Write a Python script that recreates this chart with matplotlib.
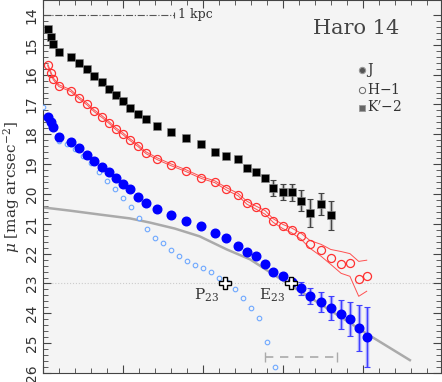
import matplotlib
matplotlib.use("Agg")
import matplotlib.pyplot as plt

plt.rcParams['font.family'] = ['DejaVu Serif']
plt.rcParams['mathtext.fontset'] = 'dejavuserif'

# radii of the measured profile points (arcsec)
radius = [0.6, 1.0, 1.3, 2.0, 3.5, 4.5, 5.5, 6.4, 7.4, 8.3, 9.1, 10.0, 10.9, 11.9,
          12.9, 14.3, 16.0, 17.9, 19.8, 21.5, 22.9, 24.4, 25.5, 26.6, 27.8, 28.8,
          30.0, 31.1, 32.3, 33.4, 34.8, 36.0, 37.3, 38.4, 39.5, 40.5]

# K'-2 profile (black squares)
mu_K = [14.47, 14.74, 14.97, 15.24, 15.40, 15.61, 15.81, 16.04, 16.24, 16.47, 16.68,
        16.88, 17.11, 17.31, 17.48, 17.71, 17.91, 18.11, 18.31, 18.58, 18.72, 18.82,
        19.12, 19.28, 19.48, 19.79, 19.92, 19.95, 20.22, 20.65, 20.35, 20.72]
err_K = [0, 0, 0, 0, 0, 0, 0, 0, 0, 0, 0, 0, 0, 0, 0, 0, 0, 0, 0, 0, 0, 0,
         0.04, 0.06, 0.10, 0.27, 0.27, 0.27, 0.34, 0.47, 0.37, 0.50]

# H-1 profile (red open circles) and its error envelope
mu_H = [15.67, 15.94, 16.14, 16.37, 16.54, 16.78, 16.98, 17.21, 17.41, 17.61, 17.81,
        17.98, 18.18, 18.38, 18.62, 18.82, 19.02, 19.22, 19.45, 19.59, 19.82, 20.02,
        20.29, 20.45, 20.62, 20.89, 21.09, 21.22, 21.42, 21.69, 21.89, 22.13, 22.36,
        22.33, 22.86, 22.76]
err_H_hi = [0.03, 0.03, 0.03, 0.03, 0.03, 0.03, 0.03, 0.03, 0.03, 0.03, 0.03, 0.03,
            0.03, 0.03, 0.03, 0.03, 0.03, 0.03, 0.03, 0.03, 0.04, 0.04, 0.05, 0.05,
            0.06, 0.06, 0.07, 0.08, 0.10, 0.13, 0.20, 0.27, 0.43, 0.33, 0.60, 0.54]
err_H_lo = [0.03, 0.03, 0.03, 0.03, 0.03, 0.03, 0.03, 0.03, 0.03, 0.03, 0.03, 0.03,
            0.03, 0.03, 0.03, 0.03, 0.03, 0.03, 0.03, 0.03, 0.04, 0.04, 0.05, 0.05,
            0.06, 0.06, 0.07, 0.08, 0.10, 0.13, 0.20, 0.23, 0.30, 0.43, 0.57, 0.50]

# J profile (blue filled circles)
mu_J = [17.41, 17.58, 17.75, 18.08, 18.25, 18.45, 18.68, 18.88, 19.08, 19.28, 19.48,
        19.65, 19.85, 20.09, 20.29, 20.49, 20.69, 20.89, 21.09, 21.32, 21.49, 21.73,
        21.93, 22.09, 22.36, 22.60, 22.76, 22.96, 23.16, 23.43, 23.63, 23.83, 24.03,
        24.20, 24.50, 24.80]
err_J = [0, 0, 0, 0, 0, 0, 0, 0, 0, 0, 0, 0, 0, 0, 0, 0, 0, 0, 0, 0, 0, 0, 0, 0, 0, 0,
         0.08, 0.12, 0.22, 0.27, 0.33, 0.40, 0.48, 0.57, 0.77, 1.00]

# starburst component (small light blue circles)
r_sb = [0, 1, 2, 3, 4, 5, 6, 7, 8, 9, 10, 11, 12, 13, 14, 15, 16, 17, 18, 19, 20,
        21, 22, 23, 24, 25, 26, 27, 28, 29]
mu_sb = [17.08, 17.68, 18.21, 18.31, 18.51, 18.72, 18.95, 19.25, 19.55, 19.82, 20.15,
         20.45, 20.82, 21.16, 21.46, 21.66, 21.89, 22.09, 22.26, 22.39, 22.49, 22.63,
         22.83, 22.96, 23.20, 23.50, 23.83, 24.17, 24.97, 25.81]

# host / disk fit (gray line)
r_disk = [0, 3.4, 7.1, 10.9, 13.4, 16.5, 19.6, 23.0, 25.9, 29.6, 34.6, 40.6, 45.9]
mu_disk = [20.45, 20.56, 20.69, 20.82, 20.96, 21.16, 21.42, 21.86, 22.19, 22.83,
           23.67, 24.70, 25.57]

# isophotal radii at 23 mag
r_P23, r_E23 = 22.75, 31.0

bg = '#f4f4f4'
fig = plt.figure(figsize=(4.42, 3.82), dpi=100)
ax = fig.add_axes([0.097, 0.0236, 0.9, 0.9764])
ax.set_facecolor(bg)

ax.axhline(23, color='#cccccc', ls=':', lw=0.8, zorder=1)

# gray disk model
ax.plot(r_disk, mu_disk, color='#aaaaaa', lw=1.8, zorder=2)

# starburst component
ax.plot(r_sb, mu_sb, 'o', ms=3.3, mfc=bg, mec='#6fa8ff', mew=0.8, ls='none', zorder=3)

# K'-2
rK = radius[:len(mu_K)]
ax.errorbar(rK, mu_K, yerr=err_K, fmt='none', ecolor='#bbbbbb', elinewidth=2.5, zorder=4)
ax.errorbar(rK, mu_K, yerr=err_K, fmt='none', ecolor='#444444', elinewidth=0.8,
            capsize=2.5, capthick=0.8, zorder=4)
ax.plot(rK, mu_K, 's', color='black', ms=5.2, mec='#888888', mew=0.4, zorder=5)

# H-1 with envelope
up = [m - e for m, e in zip(mu_H, err_H_hi)]
dn = [m + e for m, e in zip(mu_H, err_H_lo)]
ax.plot(radius, up, color='#ff5050', lw=0.7, zorder=4)
ax.plot(radius, dn, color='#ff5050', lw=0.7, zorder=4)
ax.plot(radius, mu_H, 'o', ms=5.8, mfc='none', mec='#ff3030', mew=0.9, zorder=5)

# J
ax.errorbar(radius, mu_J, yerr=err_J, fmt='none', ecolor='#a8a8ff', elinewidth=2.5, zorder=4)
ax.errorbar(radius, mu_J, yerr=err_J, fmt='none', ecolor='#4040ff', elinewidth=0.8,
            capsize=2.5, capthick=0.8, zorder=4)
ax.plot(radius, mu_J, 'o', color='#0000ff', ms=6.2, zorder=5)

# P23 / E23 markers
ax.plot([r_P23, r_E23], [23, 23], 'P', ms=8, mfc='white', mec='black', mew=1.0, zorder=7)
ax.text(r_P23 - 2.3, 23.38, 'P$_{23}$', fontsize=11, ha='center', va='center', color='#333333')
ax.text(r_E23 - 2.4, 23.38, 'E$_{23}$', fontsize=11, ha='center', va='center', color='#333333')

# 1 kpc scale bar
ax.plot([0, 16.4], [14.0, 14.0], color='#555555', lw=0.8, ls='-.')
ax.plot([16.4], [14.0], '|', color='#555555', ms=5, mew=0.8)
ax.text(16.9, 14.0, '1 kpc', fontsize=9, va='center', ha='left', color='#333333')

# seeing bar
ax.plot([27.75, 36.75], [25.47, 25.47], color='#aaaaaa', lw=1.2, ls=(0, (5, 4)))
ax.plot([27.75, 36.75], [25.47, 25.47], '|', color='#aaaaaa', ms=7, mew=1.0)

ax.text(39.2, 14.45, 'Haro 14', fontsize=15, ha='center', va='center', color='#444444')

# legend
leg_y = [15.84, 16.51, 17.11]
ax.plot([39.9], [leg_y[0]], 'o', ms=4.5, mfc='#555555', mec='#999999', mew=0.8)
ax.plot([39.9], [leg_y[1]], 'o', ms=4.5, mfc='none', mec='#666666', mew=0.7)
ax.plot([39.9], [leg_y[2]], 's', ms=4.5, mfc='#666666', mec='#999999', mew=0.6)
for y, t in zip(leg_y, ['J', 'H$-$1', "K$'$$-$2"]):
    ax.text(40.5, y, t, fontsize=10, va='center', ha='left', color='#333333')

ax.set_xlim(0, 49.75)
ax.set_ylim(26, 13.5)
ax.set_xticks([0, 10, 20, 30, 40])
ax.set_xticks([i * 2 for i in range(25)], minor=True)
ax.set_yticks(list(range(14, 27)))
ax.set_yticks([14 + i * 0.2 for i in range(61)], minor=True)
ax.tick_params(which='both', direction='in', top=True, right=True, color='#444444',
               labelbottom=False, labelfontfamily='DejaVu Sans')
ax.tick_params(which='major', length=6, width=0.8)
ax.tick_params(which='minor', length=3.5, width=0.6)
ax.tick_params(axis='y', labelrotation=90, labelsize=10, pad=3, labelcolor='#333333')
for lbl in ax.get_yticklabels():
    lbl.set_va('center')
for s in ax.spines.values():
    s.set_color('#444444')
    s.set_linewidth(0.8)

ax.set_ylabel(r'$\mu$ [mag arcsec$^{-2}$]', fontsize=11, color='#333333', labelpad=2)

fig.savefig('out.png', dpi=100, facecolor='white')
